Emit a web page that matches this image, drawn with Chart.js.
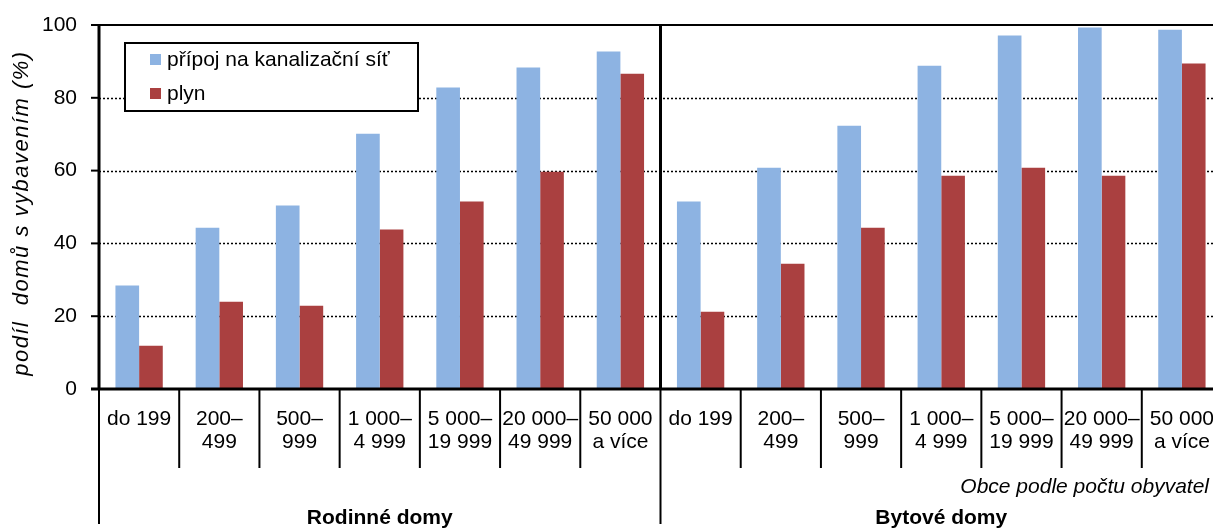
<!DOCTYPE html>
<html>
<head>
<meta charset="utf-8">
<script src="https://cdn.jsdelivr.net/npm/chart.js@4.4.1/dist/chart.umd.min.js"></script>
<style>
  html, body { margin: 0; padding: 0; overflow: hidden; background: #fff; }
  #wrap { width: 1224px; height: 531px; }
</style>
</head>
<body>
<div id="wrap"><canvas id="chart" width="1224" height="531"></canvas></div>
<script>
// data
const houseTypes = ["Rodinné domy", "Bytové domy"];
const sizeClasses = [
  ["do 199"], ["200–", "499"], ["500–", "999"], ["1 000–", "4 999"],
  ["5 000–", "19 999"], ["20 000–", "49 999"], ["50 000", "a více"]
];
const sewer = [28.4, 44.3, 50.4, 70.1, 82.8, 88.3, 92.7, 51.5, 60.8, 72.3, 88.8, 97.1, 99.3, 98.7];
const gas = [11.9, 24.0, 22.9, 43.8, 51.5, 59.7, 86.6, 21.2, 34.4, 44.3, 58.6, 60.8, 58.6, 89.4];
const yTicks = [0, 20, 40, 60, 80, 100];
const yTitle = "podíl  domů s vybavením (%)";
const xTitle = "Obce podle počtu obyvatel";

const labels = houseTypes.flatMap(() => sizeClasses);
const FONT = '"Liberation Sans", Arial, sans-serif';

function line(ctx, x1, y1, x2, y2) {
  ctx.beginPath();
  ctx.moveTo(x1, y1);
  ctx.lineTo(x2, y2);
  ctx.stroke();
}

// grid, axes, separators, legend and extra texts
const frame = {
  id: 'frame',
  beforeDatasetsDraw(chart) {
    const {ctx, chartArea: a, scales: {y}} = chart;
    ctx.save();
    ctx.strokeStyle = '#000';
    ctx.lineWidth = 1.5;
    ctx.setLineDash([2, 2]);
    yTicks.slice(1, -1).forEach(v => {
      const py = Math.round(y.getPixelForValue(v)) + 0.5;
      line(ctx, a.left, py, a.right, py);
    });
    ctx.restore();
  },
  afterDatasetsDraw(chart) {
    const {ctx, chartArea: a, scales: {x, y}} = chart;
    const n = sizeClasses.length;
    const edge = i => i === 0 ? a.left : (i === labels.length ? a.right
      : (x.getPixelForValue(i - 1) + x.getPixelForValue(i)) / 2);
    ctx.save();
    ctx.strokeStyle = '#000';
    // top line
    ctx.lineWidth = 2;
    line(ctx, a.left, a.top, a.right, a.top);
    // y tick marks
    yTicks.forEach(v => {
      const py = y.getPixelForValue(v);
      line(ctx, a.left - 8, py, a.left, py);
    });
    // category separators
    for (let i = 1; i < labels.length; i++) {
      if (i % n === 0) continue;
      line(ctx, edge(i), a.bottom, edge(i), 468);
    }
    // group separators
    ctx.lineWidth = 2;
    line(ctx, a.left, a.bottom, a.left, 524);
    for (let g = 1; g < houseTypes.length; g++) {
      ctx.lineWidth = 3;
      line(ctx, edge(g * n), a.top, edge(g * n), a.bottom);
      ctx.lineWidth = 2;
      line(ctx, edge(g * n), a.bottom, edge(g * n), 524);
    }
    // axes
    ctx.lineWidth = 3;
    line(ctx, a.left - 8, a.bottom, a.right, a.bottom);
    line(ctx, a.left, a.top - 1, a.left, a.bottom);

    // group labels
    ctx.fillStyle = '#000';
    ctx.textAlign = 'center';
    ctx.textBaseline = 'middle';
    ctx.font = 'bold 21px ' + FONT;
    houseTypes.forEach((t, g) => {
      ctx.fillText(t, (edge(g * n) + edge((g + 1) * n)) / 2, 518);
    });
    ctx.font = 'italic 21px ' + FONT;
    ctx.textAlign = 'right';
    ctx.fillText(xTitle, 1209, 487);

    // y title
    ctx.save();
    ctx.translate(22, 213);
    ctx.rotate(-Math.PI / 2);
    ctx.textAlign = 'center';
    ctx.font = 'italic 22px ' + FONT;
    ctx.letterSpacing = '1.5px';
    ctx.fillText(yTitle, 0, 0);
    ctx.restore();

    // legend
    const lx = a.left + 26, ly = a.top + 18;
    ctx.fillStyle = '#fff';
    ctx.fillRect(lx, ly, 293, 68);
    ctx.lineWidth = 2;
    ctx.strokeRect(lx, ly, 293, 68);
    ctx.font = '21px ' + FONT;
    ctx.textAlign = 'left';
    chart.data.datasets.forEach((ds, i) => {
      const ry = ly + 11 + i * 34;
      ctx.fillStyle = ds.backgroundColor;
      ctx.fillRect(lx + 25, ry, 11, 11);
      ctx.fillStyle = '#000';
      ctx.fillText(ds.label, lx + 42, ry + 6);
    });
    ctx.restore();
  }
};

new Chart(document.getElementById('chart'), {
  type: 'bar',
  data: {
    labels: labels,
    datasets: [
      {
        label: "přípoj na kanalizační síť",
        data: sewer,
        backgroundColor: "#8DB3E2",
        categoryPercentage: 0.59,
        barPercentage: 1.0
      },
      {
        label: "plyn",
        data: gas,
        backgroundColor: "#AA4040",
        categoryPercentage: 0.59,
        barPercentage: 1.0
      }
    ]
  },
  options: {
    responsive: false,
    devicePixelRatio: 1,
    animation: false,
    layout: { padding: { top: 25, right: 2, bottom: 0, left: 0 } },
    plugins: {
      legend: { display: false },
      tooltip: { enabled: false }
    },
    scales: {
      x: {
        grid: { display: false, drawTicks: false },
        border: { display: false },
        ticks: {
          autoSkip: false,
          maxRotation: 0,
          padding: 19,
          color: '#000',
          font: { family: FONT, size: 21, lineHeight: 1.1 }
        },
        afterFit: s => {
          s.height = 142;
          s.paddingLeft = 0;
          s.paddingRight = 0;
        }
      },
      y: {
        min: 0,
        max: 100,
        grid: { display: false, drawTicks: false },
        border: { display: false },
        ticks: {
          stepSize: 20,
          padding: 22,
          color: '#000',
          font: { family: FONT, size: 21 }
        },
        afterFit: s => {
          s.width = 99;
          s.paddingTop = 12;
          s.paddingBottom = 12;
        }
      }
    }
  },
  plugins: [frame]
});
</script>
</body>
</html>
